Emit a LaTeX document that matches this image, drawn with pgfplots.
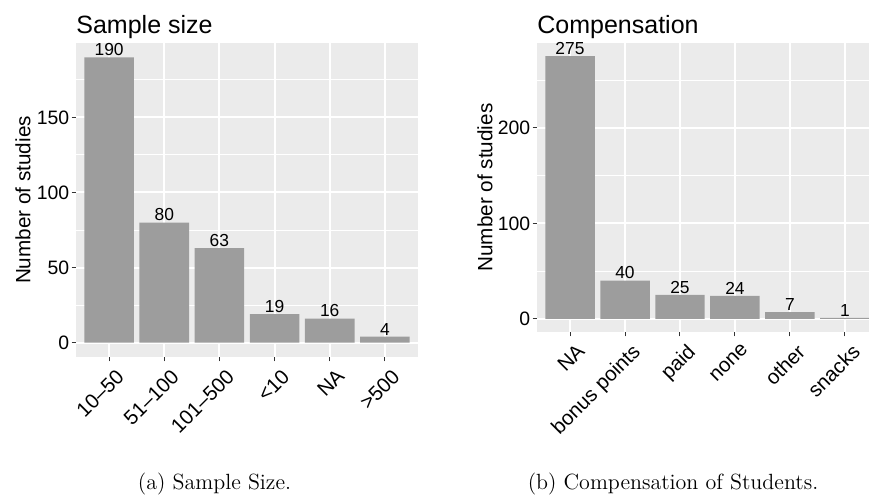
\documentclass[border=0pt]{standalone}
\usepackage{pgfplots}
\pgfplotsset{compat=1.18}
\usepackage{fontspec}
\newfontfamily\plotfont{Liberation Sans}
\definecolor{panelbg}{RGB}{235,235,235}
\definecolor{barg}{RGB}{157,157,157}
\definecolor{tickc}{RGB}{51,51,51}
\pgfplotsset{
  ggbar/.style={
    scale only axis,
    axis background/.style={fill=panelbg},
    axis line style={draw=none},
    enlargelimits=false,
    xmin=-0.6, xmax=5.6,
    xtick={0,...,5},
    xtick pos=bottom, ytick pos=left,
    tick align=outside,
    major tick length=2.2pt,
    minor tick length=0pt,
    tick style={tickc, line width=0.5pt},
    grid=major,
    ymajorgrids, yminorgrids, xmajorgrids,
    major grid style={white, line width=1pt},
    minor grid style={white, line width=0.5pt},
    ybar, bar width=0.9,
    /pgf/number format/assume math mode=true,
    ticklabel style={font=\plotfont\fontsize{9.7}{11}\selectfont, text=black},
    yticklabel style={inner sep=0pt, xshift=-1pt},
    xticklabel style={font=\plotfont\fontsize{10.2}{12}\selectfont, rotate=45, anchor=north east, inner sep=0pt, yshift=-4.2pt, xshift=0pt},
    nodes near coords,
    every node near coord/.append style={font=\plotfont\fontsize{8.7}{10}\selectfont, text=black, anchor=south, inner sep=0pt, yshift=0.6pt},
  }
}
\begin{document}
\begin{tikzpicture}
\useasboundingbox (0,0) rectangle (434.5pt,-247.5pt);
\clip (0,0) rectangle (434.5pt,-247.5pt);
% Left panel
\begin{axis}[ggbar,
  at={(38pt,-178.5pt)}, anchor=south west,
  width=171pt, height=157pt,
  ymin=-9.5, ymax=199.5,
  ytick={0,50,100,150},
  minor ytick={25,75,125,175},
  xticklabels={10–50,51–100,101–500,<10,NA,>500},
]
\addplot[fill=barg, draw=none] coordinates {(0,190) (1,80) (2,63) (3,19) (4,16) (5,4)};
\end{axis}
% Right panel
\begin{axis}[ggbar,
  at={(268.5pt,-166pt)}, anchor=south west,
  width=170.5pt, height=144.5pt,
  ymin=-13.75, ymax=288.75,
  ytick={0,100,200},
  minor ytick={50,150,250},
  xticklabels={NA,bonus points,paid,none,other,snacks},
]
\addplot[fill=barg, draw=none] coordinates {(0,275) (1,40) (2,25) (3,24) (4,7) (5,1)};
\end{axis}
% Titles
\node[anchor=base west, inner sep=0pt, font=\plotfont\fontsize{12.5}{14}\selectfont] at (38pt,-16.5pt) {Sample size};
\node[anchor=base west, inner sep=0pt, font=\plotfont\fontsize{12.5}{14}\selectfont] at (268.5pt,-16.5pt) {Compensation};
% Y labels
\node[rotate=90, inner sep=0pt, font=\plotfont\fontsize{10.35}{12}\selectfont] at (11.5pt,-100pt) {Number of studies};
\node[rotate=90, inner sep=0pt, font=\plotfont\fontsize{10.35}{12}\selectfont] at (242.5pt,-93.75pt) {Number of studies};
% Captions
\node[anchor=base, inner sep=0pt, font=\fontsize{11}{13}\selectfont] at (107.25pt,-244.5pt) {(a) Sample Size.};
\node[anchor=base, inner sep=0pt, font=\fontsize{11}{13}\selectfont] at (336.5pt,-244.5pt) {(b) Compensation of Students.};
\end{tikzpicture}
\end{document}
